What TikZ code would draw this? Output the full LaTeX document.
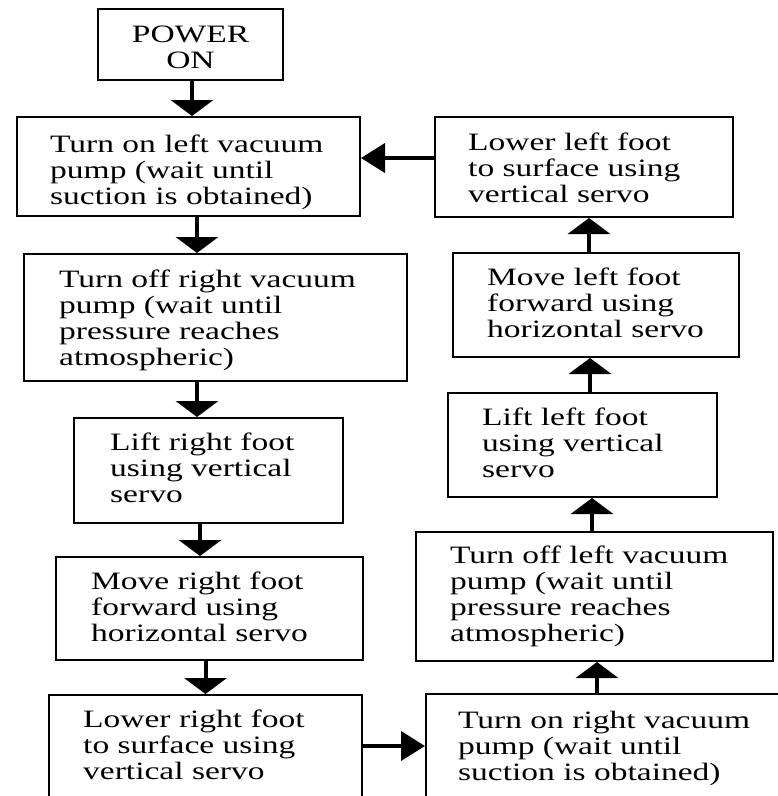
\documentclass[tikz,border=0pt]{standalone}
\usepackage{fontspec}
\setmainfont{Liberation Serif}[FakeStretch=1.34]
\usetikzlibrary{arrows.meta}
% left-aligned block of lines whose reference point is the first baseline
\newcommand\steplines[1]{\begin{tabular}[t]{@{}l@{}}#1\end{tabular}}
\begin{document}
\begin{tikzpicture}[x=1pt,y=-1pt,
  stepbox/.style={draw, line width=2pt, inner sep=0pt},
  steptext/.style={inner sep=0pt, anchor=base west, font=\fontsize{25}{26}\selectfont},
  varr/.style={line width=4pt, -{Triangle[width=42pt,length=16pt]}},
  harr/.style={line width=4pt, -{Triangle[width=29pt,length=24pt]}}]
\useasboundingbox (0,0) rectangle (778,796);
\fill[white] (0,0) rectangle (778,796);
\clip (0,0) rectangle (778,796);

% boxes of the walking cycle (centre, size)
\node[stepbox, minimum width=185pt, minimum height=71pt]  (pwr)   at (190.5,44.5) {};
\node[stepbox, minimum width=343pt, minimum height=99pt]  (tonL)  at (188.5,166.5) {};
\node[stepbox, minimum width=383pt, minimum height=127pt] (toffR) at (215.5,317.5) {};
\node[stepbox, minimum width=269pt, minimum height=105pt] (liftR) at (208.5,470.5) {};
\node[stepbox, minimum width=307pt, minimum height=103pt] (moveR) at (209.5,608.5) {};
\node[stepbox, minimum width=313pt, minimum height=105pt] (lowR)  at (205.5,747.5) {};
\node[stepbox, minimum width=364pt, minimum height=108pt] (tonR)  at (608,748) {};
\node[stepbox, minimum width=357pt, minimum height=129pt] (toffL) at (594.5,596.5) {};
\node[stepbox, minimum width=269pt, minimum height=104pt] (liftL) at (582.5,445) {};
\node[stepbox, minimum width=286pt, minimum height=104pt] (moveL) at (596,305) {};
\node[stepbox, minimum width=298pt, minimum height=100pt] (lowL)  at (584,167) {};

% box texts (left edge, first baseline)
\node[steptext, anchor=base] (pwr-t) at (190.5,42.3)
  {\begin{tabular}[t]{@{}c@{}}POWER\\ON\end{tabular}};
\node[steptext] (tonL-t)  at (50,152)  {\steplines{Turn on left vacuum\\pump (wait until\\suction is obtained)}};
\node[steptext] (toffR-t) at (59,287)  {\steplines{Turn off right vacuum\\pump (wait until\\pressure reaches\\atmospheric)}};
\node[steptext] (liftR-t) at (110,450) {\steplines{Lift right foot\\using vertical\\servo}};
\node[steptext] (moveR-t) at (91,589)  {\steplines{Move right foot\\forward using\\horizontal servo}};
\node[steptext] (lowR-t)  at (83,727)  {\steplines{Lower right foot\\to surface using\\vertical servo}};
\node[steptext] (tonR-t)  at (458,728) {\steplines{Turn on right vacuum\\pump (wait until\\suction is obtained)}};
\node[steptext] (toffL-t) at (450,563) {\steplines{Turn off left vacuum\\pump (wait until\\pressure reaches\\atmospheric)}};
\node[steptext] (liftL-t) at (482,425) {\steplines{Lift left foot\\using vertical\\servo}};
\node[steptext] (moveL-t) at (487,285) {\steplines{Move left foot\\forward using\\horizontal servo}};
\node[steptext] (lowL-t)  at (468,150) {\steplines{Lower left foot\\to surface using\\vertical servo}};

% connectors
\path ([xshift=1.5pt]pwr.south)    coordinate (a1);
\path ([xshift=8.5pt]tonL.south)   coordinate (a2);
\path ([xshift=-18.5pt]toffR.south) coordinate (a3);
\path ([xshift=-8.5pt]liftR.south) coordinate (a4);
\path ([xshift=-4pt]moveR.south)   coordinate (a5);
\path ([yshift=1.5pt]lowR.east)    coordinate (a6);
\path ([xshift=-11pt]tonR.north)   coordinate (a7);
\path ([xshift=-2.5pt]toffL.north) coordinate (a8);
\path ([xshift=7.5pt]liftL.north)  coordinate (a9);
\path ([xshift=-7pt]moveL.north)   coordinate (a10);
\path ([yshift=9pt]lowL.west)      coordinate (a11);

\draw[varr] (a1) -- (a1 |- tonL.north);
\draw[varr] (a2) -- (a2 |- toffR.north);
\draw[varr] (a3) -- (a3 |- liftR.north);
\draw[varr] (a4) -- (a4 |- moveR.north);
\draw[varr] (a5) -- (a5 |- lowR.north);
\draw[harr] (a6) -- (a6 -| tonR.west);
\draw[varr] (a7) -- (a7 |- toffL.south);
\draw[varr] (a8) -- (a8 |- liftL.south);
\draw[varr] (a9) -- (a9 |- moveL.south);
\draw[varr] (a10) -- (a10 |- lowL.south);
\draw[harr] (a11) -- (a11 -| tonL.east);
\end{tikzpicture}
\end{document}
